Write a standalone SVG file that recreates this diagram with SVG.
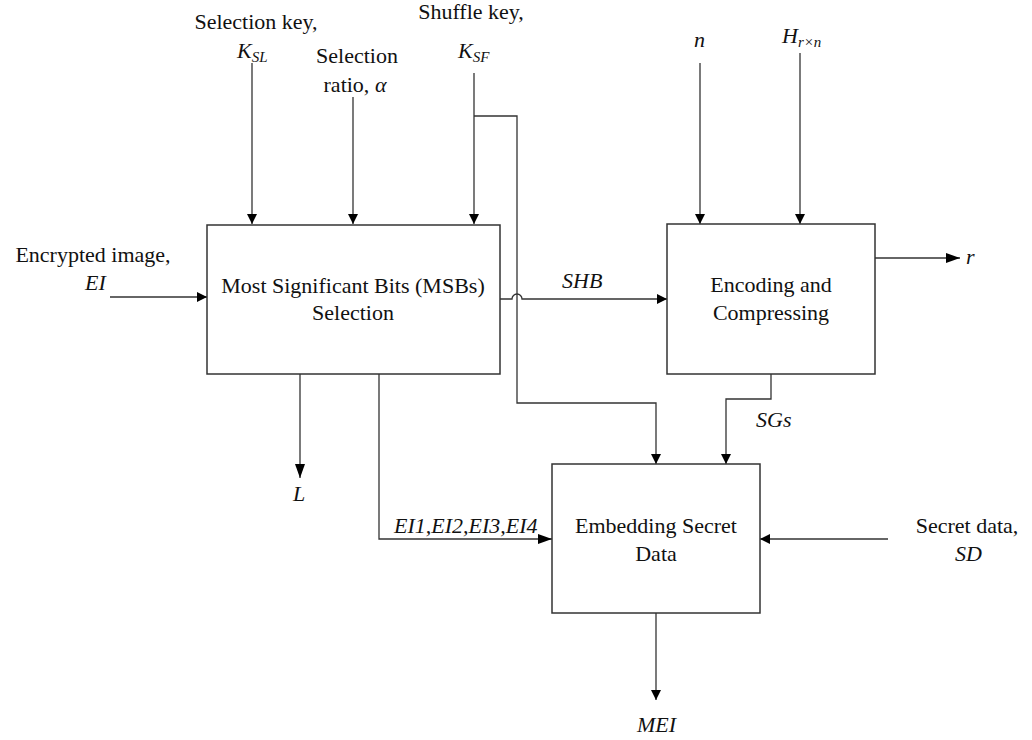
<svg xmlns="http://www.w3.org/2000/svg" width="1032" height="740" viewBox="0 0 1032 740">
<defs>
<marker id="arr" viewBox="0 0 10 10" refX="10" refY="5" markerWidth="10" markerHeight="10" markerUnits="userSpaceOnUse" orient="auto">
<path d="M0,0 L10,5 L0,10 z" fill="#000"/>
</marker>
<marker id="arrL" viewBox="0 0 14 10" refX="14" refY="5" markerWidth="14" markerHeight="10" markerUnits="userSpaceOnUse" orient="auto">
<path d="M0,0 L14,5 L0,10 z" fill="#000"/>
</marker>
</defs>
<style>
.box{fill:#fff;stroke:#333;stroke-width:1.5}
.ln{fill:none;stroke:#333;stroke-width:1.3}
.t{text-anchor:middle}
.i{font-style:italic}
.s{font-size:15px}
</style>
<rect width="1032" height="740" fill="#fff"/>
<g id="connectors">
<path class="ln" d="M252,63 V224" marker-end="url(#arr)"/>
<path class="ln" d="M353,97 V224" marker-end="url(#arr)"/>
<path class="ln" d="M474,73 V224" marker-end="url(#arr)"/>
<path class="ln" d="M474,116 H517 V403 H656 V464" marker-end="url(#arr)"/>
<path class="ln" d="M110,297 H207" marker-end="url(#arr)"/>
<path class="ln" d="M500,299 H512 A5,5 0 0 1 522,299 H667" marker-end="url(#arr)"/>
<path class="ln" d="M700,63 V224" marker-end="url(#arr)"/>
<path class="ln" d="M800,53 V224" marker-end="url(#arr)"/>
<path class="ln" d="M875,258 H960" marker-end="url(#arrL)"/>
<path class="ln" d="M771,374 V399 H726 V464" marker-end="url(#arr)"/>
<path class="ln" d="M300,374 V478" marker-end="url(#arrL)"/>
<path class="ln" d="M379,374 V539 H552" marker-end="url(#arrL)"/>
<path class="ln" d="M888,539 H760" marker-end="url(#arr)"/>
<path class="ln" d="M656,613 V700" marker-end="url(#arr)"/>
</g>
<g font-family="Liberation Serif, Tinos, Times New Roman, serif" font-size="22" fill="#111">
<g id="msb">
<rect class="box" x="207" y="225" width="293" height="149"/>
<text class="t" x="353" y="293">Most Significant Bits (MSBs)</text>
<text class="t" x="353" y="320">Selection</text>
</g>
<g id="encoding">
<rect class="box" x="667" y="224" width="208" height="150"/>
<text class="t" x="771" y="292">Encoding and</text>
<text class="t" x="771" y="320">Compressing</text>
</g>
<g id="embedding">
<rect class="box" x="552" y="464" width="208" height="149"/>
<text class="t" x="656" y="533">Embedding Secret</text>
<text class="t" x="656" y="561">Data</text>
</g>
<g id="labels">
<text class="t" x="256" y="29">Selection key,</text>
<text class="i" x="237" y="58">K<tspan class="s" dy="4">SL</tspan></text>
<text class="t" x="357" y="63">Selection</text>
<text class="t" x="355" y="92">ratio, <tspan class="i">α</tspan></text>
<text class="t" x="471" y="19">Shuffle key,</text>
<text class="i" x="458" y="58">K<tspan class="s" dy="4">SF</tspan></text>
<text class="i" x="694" y="47">n</text>
<text class="i" x="782" y="43">H<tspan class="s" dy="4">r×n</tspan></text>
<text class="t" x="93" y="262">Encrypted image,</text>
<text class="i" x="85" y="290">EI</text>
<text class="i" x="562" y="288">SHB</text>
<text class="i" x="966" y="264">r</text>
<text class="i" x="756" y="427">SGs</text>
<text class="i" x="293" y="501">L</text>
<text class="i" x="394" y="533">EI1,EI2,EI3,EI4</text>
<text class="t" x="967" y="533">Secret data,</text>
<text class="i" x="955" y="561">SD</text>
<text class="i" x="637" y="732">MEI</text>
</g>
</g>
</svg>
